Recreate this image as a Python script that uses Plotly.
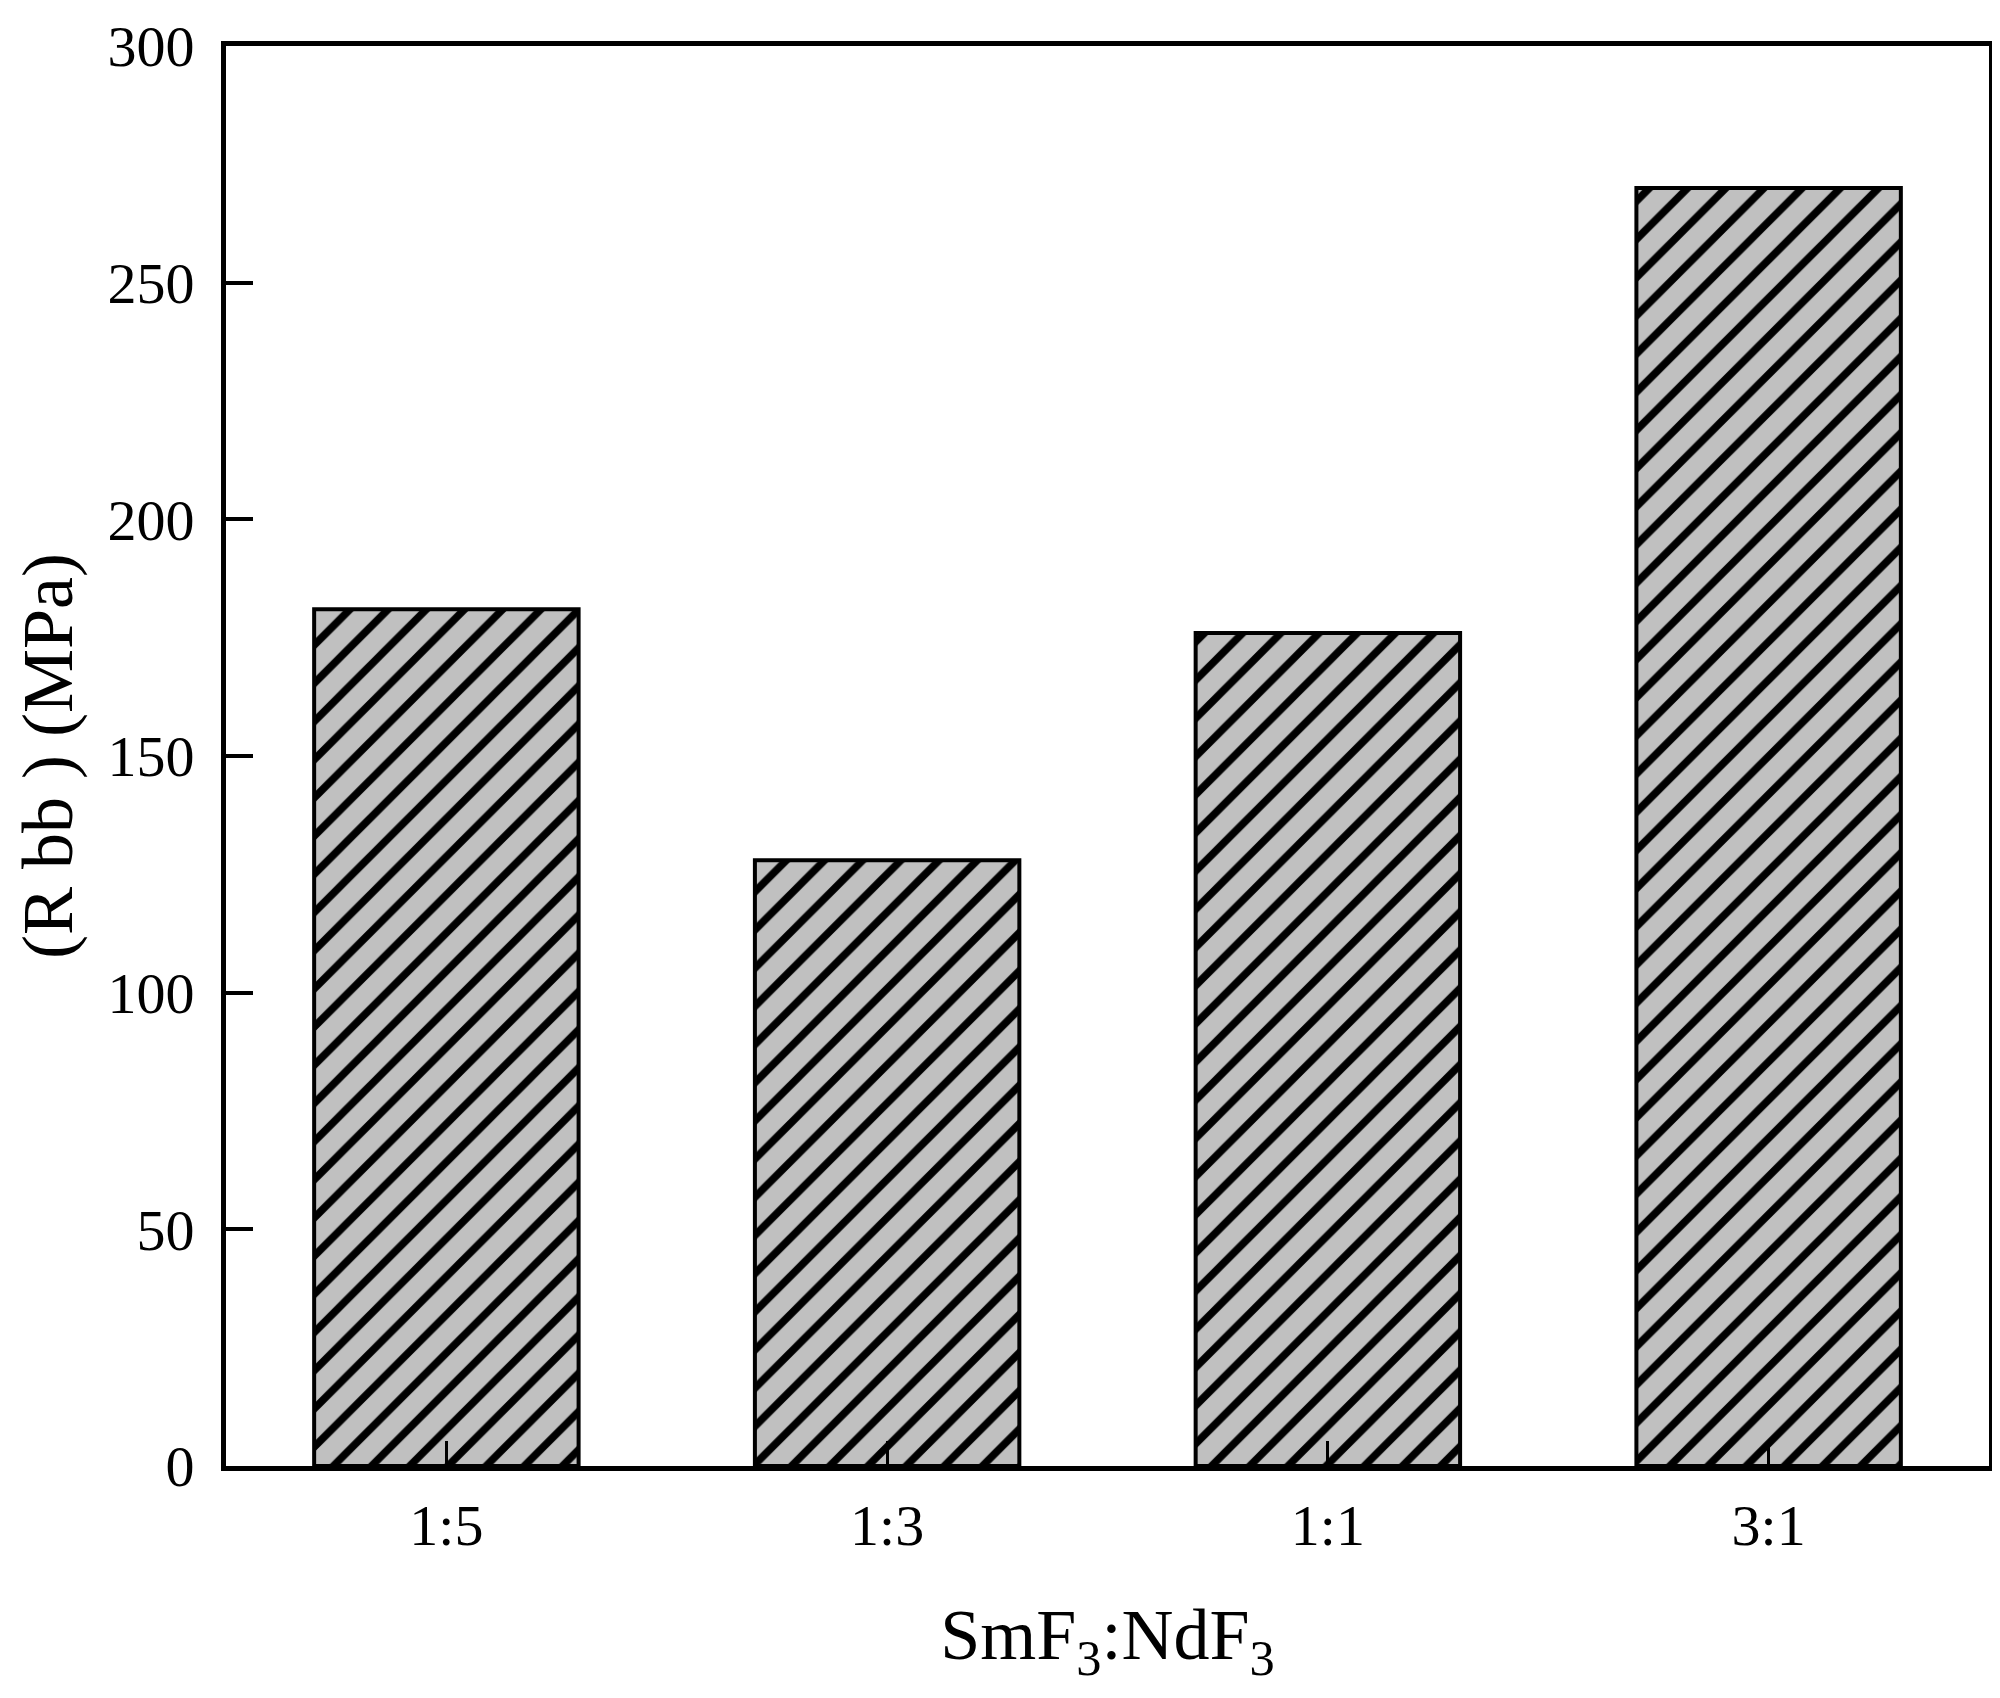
import plotly.graph_objects as go

categories = ["1:5", "1:3", "1:1", "3:1"]
values = [181, 128, 176, 270]
y_ticks = [0, 50, 100, 150, 200, 250, 300]

FONT = "Liberation Serif, Times New Roman, serif"

fig = go.Figure()
fig.add_trace(go.Bar(
    x=categories,
    y=values,
    width=0.6,
    marker=dict(
        color="#c0c0c0",
        line=dict(color="black", width=4),
        pattern=dict(shape="/", fgcolor="black", bgcolor="#c0c0c0",
                     size=27, solidity=0.28, fillmode="replace"),
    ),
    showlegend=False,
))

fig.update_layout(
    width=1992, height=1690,
    margin=dict(l=218, r=6, t=34, b=232),
    paper_bgcolor="white", plot_bgcolor="white",
    font=dict(family=FONT, color="black", size=58),
    bargap=0.4,
)
fig.update_xaxes(
    type="category",
    showline=True, linecolor="black", linewidth=5, mirror=True,
    ticks="inside", ticklen=25, tickwidth=3, tickcolor="black",
    tickfont=dict(size=58, family=FONT),
    ticklabelstandoff=4,
    title=dict(text="SmF<sub>3</sub>:NdF<sub>3</sub>", font=dict(size=72, family=FONT), standoff=54),
    showgrid=False, zeroline=False,
)
fig.update_yaxes(
    range=[0, 300], tickvals=y_ticks, ticktext=[str(v) for v in y_ticks],
    showline=True, linecolor="black", linewidth=5, mirror=True,
    ticks="inside", ticklen=27, tickwidth=4, tickcolor="black",
    tickfont=dict(size=58, family=FONT),
    ticklabelstandoff=15,
    title=dict(text="(R bb ) (MPa)", font=dict(size=72, family=FONT), standoff=15),
    showgrid=False, zeroline=False,
)

fig.write_html("out.html")
